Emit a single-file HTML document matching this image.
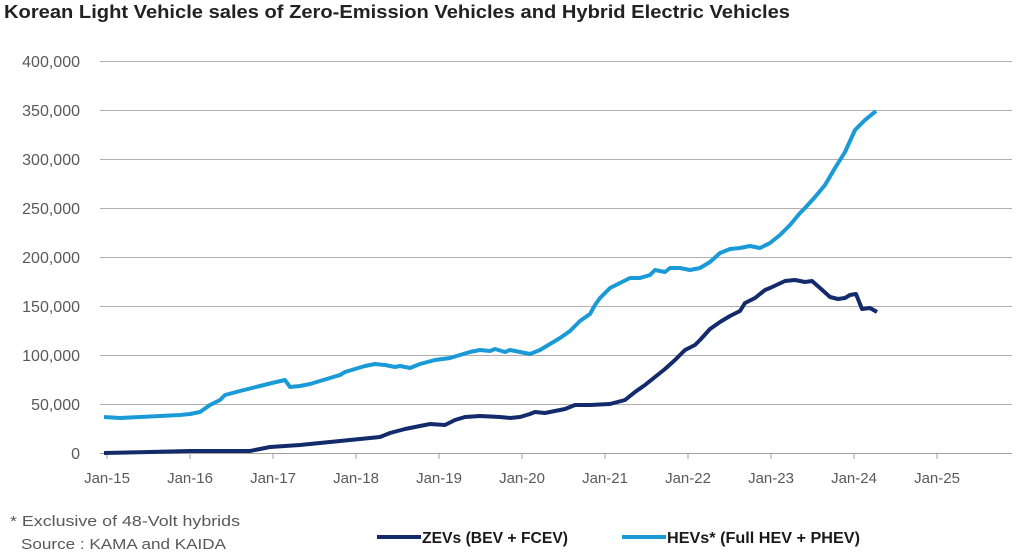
<!DOCTYPE html>
<html><head><meta charset="utf-8"><style>
body{margin:0;background:#fff;width:1024px;height:555px;overflow:hidden;font-family:"Liberation Sans",sans-serif}
</style></head><body>
<svg width="1024" height="555" xmlns="http://www.w3.org/2000/svg" font-family="Liberation Sans, sans-serif">
<text x="4" y="18" font-size="18" font-weight="bold" fill="#222" textLength="786" lengthAdjust="spacingAndGlyphs">Korean Light Vehicle sales of Zero-Emission Vehicles and Hybrid Electric Vehicles</text>
<g stroke="#b0b0b0" stroke-width="1">
<line x1="100" x2="1012" y1="61.5" y2="61.5"/><line x1="100" x2="1012" y1="110.5" y2="110.5"/>
<line x1="100" x2="1012" y1="159.5" y2="159.5"/><line x1="100" x2="1012" y1="208.5" y2="208.5"/>
<line x1="100" x2="1012" y1="257.5" y2="257.5"/><line x1="100" x2="1012" y1="306.5" y2="306.5"/>
<line x1="100" x2="1012" y1="355.5" y2="355.5"/><line x1="100" x2="1012" y1="404.5" y2="404.5"/>
</g>
<line x1="100" x2="1012" y1="453.5" y2="453.5" stroke="#a0a0a0"/>
<g stroke="#a0a0a0">
<line x1="107" x2="107" y1="453" y2="459"/><line x1="190" x2="190" y1="453" y2="459"/><line x1="273" x2="273" y1="453" y2="459"/><line x1="356" x2="356" y1="453" y2="459"/><line x1="439" x2="439" y1="453" y2="459"/><line x1="522" x2="522" y1="453" y2="459"/><line x1="605" x2="605" y1="453" y2="459"/><line x1="688" x2="688" y1="453" y2="459"/><line x1="771" x2="771" y1="453" y2="459"/><line x1="854" x2="854" y1="453" y2="459"/><line x1="937" x2="937" y1="453" y2="459"/>
</g>
<g font-size="16" fill="#595959" text-anchor="end">
<text x="80" y="67">400,000</text><text x="80" y="116">350,000</text><text x="80" y="165">300,000</text><text x="80" y="214">250,000</text><text x="80" y="263">200,000</text><text x="80" y="312">150,000</text><text x="80" y="361">100,000</text><text x="80" y="410">50,000</text><text x="80" y="459">0</text>
</g>
<g font-size="15" fill="#595959" text-anchor="middle">
<text x="107" y="483">Jan-15</text><text x="190" y="483">Jan-16</text><text x="273" y="483">Jan-17</text><text x="356" y="483">Jan-18</text><text x="439" y="483">Jan-19</text><text x="522" y="483">Jan-20</text><text x="605" y="483">Jan-21</text><text x="688" y="483">Jan-22</text><text x="771" y="483">Jan-23</text><text x="854" y="483">Jan-24</text><text x="937" y="483">Jan-25</text>
</g>
<polyline fill="none" stroke="#1a9ad6" stroke-width="4" stroke-linejoin="round" points="104,417 120,418 140,417 160,416 180,415 190,414 200,412 210,405 220,400 225,395 240,391 260,386 272,383 285,380 290,387 300,386 310,384 320,381 330,378 340,375 345,372 355,369 365,366 375,364 385,365 395,367 400,366 410,368 420,364 435,360 450,358 460,355 470,352 480,350 490,351 495,349 505,352 510,350 520,352 530,354 540,350 550,344 560,338 570,331 580,321 590,314 595,305 600,298 610,288 620,283 630,278 640,278 650,275 655,270 665,272 670,268 680,268 690,270 700,268 710,262 720,253 730,249 740,248 750,246 760,248 770,243 780,235 790,225 800,213 805,208 815,197 825,185 835,168 845,152 855,130 865,120 876,111"/>
<polyline fill="none" stroke="#132a6b" stroke-width="4" stroke-linejoin="round" points="104,453 150,452 190,451 250,451 260,449 270,447 300,445 320,443 340,441 360,439 380,437 390,433 405,429 420,426 430,424 445,425 455,420 465,417 480,416 500,417 510,418 520,417 530,414 535,412 545,413 555,411 565,409 575,405 590,405 610,404 625,400 635,392 645,385 655,377 665,369 675,360 685,350 695,345 700,340 710,329 720,322 730,316 740,311 745,303 755,298 765,290 770,288 785,281 795,280 805,282 812,281 820,288 830,297 838,299 845,298 850,295 856,294 862,309 870,308 877,312"/>
<text x="10" y="526" font-size="15" fill="#595959" textLength="230" lengthAdjust="spacingAndGlyphs">* Exclusive of 48-Volt hybrids</text>
<text x="21" y="549" font-size="15" fill="#595959" textLength="205" lengthAdjust="spacingAndGlyphs">Source : KAMA and KAIDA</text>
<line x1="377" x2="421" y1="537" y2="537" stroke="#132a6b" stroke-width="4"/>
<text x="422" y="543" font-size="16" font-weight="bold" fill="#1a1a1a" textLength="146" lengthAdjust="spacingAndGlyphs">ZEVs (BEV + FCEV)</text>
<line x1="622" x2="666" y1="537" y2="537" stroke="#1a9ad6" stroke-width="4"/>
<text x="667" y="543" font-size="16" font-weight="bold" fill="#1a1a1a" textLength="193" lengthAdjust="spacingAndGlyphs">HEVs* (Full HEV + PHEV)</text>
</svg>
</body></html>
